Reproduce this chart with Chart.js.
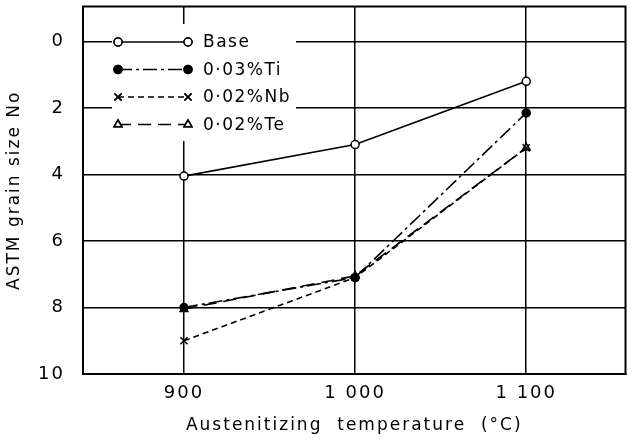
<!DOCTYPE html>
<html>
<head>
<meta charset="utf-8">
<script src="https://cdn.jsdelivr.net/npm/chart.js@4/dist/chart.umd.min.js"></script>
<style>
    body { margin: 0; background: #fff; }
    canvas { display: block; }
</style>
</head>
<body>
<canvas id="chart" width="632" height="441"></canvas>
<script>
const temps = [900, 1000, 1100];
const tempLabels = ['900', '1 000', '1 100'];
const grainTicks = [0, 2, 4, 6, 8, 10];

const base = [4.05, 3.1, 1.2];
const ti = [8.0, 7.1, 2.15];
const nb = [9.0, 7.1, 3.2];
const te = [8.05, 7.05, 3.2];

const seriesNames = ['Base', '0·03%Ti', '0·02%Nb', '0·02%Te'];

const FONT = '"DejaVu Sans", sans-serif';

const toPoints = vals => vals.map((v, i) => ({ x: temps[i], y: v }));

const styles = [
    { dash: [], point: 'circle', fill: '#fff', r: 4 },
    { dash: [14, 4, 3, 4], point: 'circle', fill: '#000', r: 4 },
    { dash: [6, 4], point: 'crossRot', fill: '#000', r: 5 },
    { dash: [13, 7], point: 'triangle', fill: '#fff', r: 4.5 },
];

const datasets = [base, ti, nb, te].map((vals, i) => ({
    label: seriesNames[i],
    data: toPoints(vals),
    borderColor: '#000',
    borderWidth: 1.6,
    borderDash: styles[i].dash,
    pointStyle: styles[i].point,
    pointRadius: styles[i].r,
    pointBorderWidth: 1.5,
    pointBorderColor: '#000',
    pointBackgroundColor: styles[i].fill,
}));

// legend inside the plot: line sample with a marker at both ends
const legendPlugin = {
    id: 'boxLegend',
    beforeDraw(chart) {
        chart.ctx.letterSpacing = '2px';
    },
    beforeDatasetsDraw(chart) {
        const ctx = chart.ctx;
        ctx.save();
        ctx.fillStyle = '#fff';
        ctx.fillRect(112, 24, 184, 117);
        datasets.forEach((ds, i) => {
            const y = 42 + i * 27.5;
            ctx.strokeStyle = '#000';
            ctx.lineWidth = 1.6;
            ctx.setLineDash(ds.borderDash);
            ctx.beginPath();
            ctx.moveTo(118, y);
            ctx.lineTo(188, y);
            ctx.stroke();
            ctx.setLineDash([]);
            [118, 188].forEach(x => {
                Chart.helpers.drawPoint(ctx, {
                    pointStyle: ds.pointStyle,
                    radius: ds.pointRadius,
                    borderWidth: 1.5,
                }, x, y);
                ctx.fillStyle = ds.pointBackgroundColor;
                ctx.strokeStyle = '#000';
                ctx.lineWidth = 1.5;
                ctx.fill();
                ctx.stroke();
            });
            ctx.fillStyle = '#000';
            ctx.font = '17px ' + FONT;
            ctx.letterSpacing = '1.5px';
            ctx.textBaseline = 'middle';
            ctx.fillText(ds.label, 203, y + 1);
        });
        ctx.restore();
    },
    afterDraw(chart) {
        const a = chart.chartArea;
        const ctx = chart.ctx;
        ctx.save();
        ctx.strokeStyle = '#000';
        ctx.lineWidth = 2;
        ctx.strokeRect(a.left, a.top, a.right - a.left, a.bottom - a.top);
        ctx.restore();
    }
};

new Chart(document.getElementById('chart'), {
    type: 'line',
    data: { datasets },
    plugins: [legendPlugin],
    options: {
        responsive: false,
        animation: false,
        devicePixelRatio: 1,
        layout: { padding: { top: 5, right: 1, left: 0, bottom: 0 } },
        plugins: {
            legend: { display: false },
            tooltip: { enabled: false },
        },
        scales: {
            x: {
                type: 'linear',
                min: 841,
                max: 1158,
                afterBuildTicks: s => { s.ticks = temps.map(v => ({ value: v })); },
                afterFit: s => { s.height = 67; s.paddingLeft = 0; s.paddingRight = 0; },
                ticks: {
                    color: '#000',
                    padding: 9,
                    font: { family: FONT, size: 18 },
                    callback: v => tempLabels[temps.indexOf(v)],
                },
                grid: { color: '#000', lineWidth: 1.5, drawTicks: false },
                border: { color: '#000', width: 2 },
                title: {
                    display: true,
                    text: 'Austenitizing  temperature  (°C)',
                    color: '#000',
                    font: { family: FONT, size: 17 },
                    padding: { top: 0, bottom: 5 },
                },
            },
            y: {
                type: 'linear',
                reverse: true,
                min: -1.05,
                max: 10,
                afterBuildTicks: s => { s.ticks = grainTicks.map(v => ({ value: v })); },
                afterFit: s => { s.width = 83; s.paddingTop = 0; s.paddingBottom = 0; },
                ticks: {
                    color: '#000',
                    padding: 18,
                    font: { family: FONT, size: 18 },
                },
                grid: { color: '#000', lineWidth: 1.5, drawTicks: false },
                border: { color: '#000', width: 2 },
                title: {
                    display: true,
                    text: 'ASTM grain size No',
                    color: '#000',
                    font: { family: FONT, size: 17 },
                    padding: { top: 4, bottom: 0 },
                },
            },
        },
    },
});
</script>
</body>
</html>
